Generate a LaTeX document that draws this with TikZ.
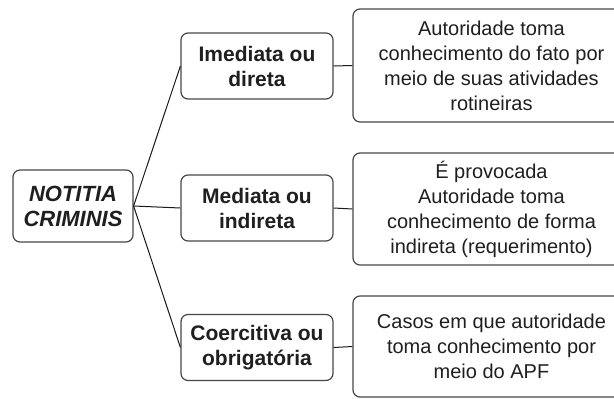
\documentclass[tikz,border=0pt]{standalone}
\usepackage{fontspec}
\setmainfont{Liberation Sans}
\begin{document}
\begin{tikzpicture}[x=1pt,y=-1pt,
  box/.style={draw=black!72,line width=1.2pt,rounded corners=7pt,inner sep=0pt,align=center,text=black!88},
  rootbox/.style={box,minimum width=120pt,minimum height=72pt,font=\fontsize{22}{25}\selectfont\bfseries\itshape},
  midbox/.style={box,minimum width=152pt,minimum height=66pt,font=\fontsize{21}{25}\selectfont\bfseries},
  leafbox/.style={box,minimum width=277pt,font=\fontsize{20}{25}\selectfont},
  conn/.style={draw=black!90,line width=1pt}]
\path[use as bounding box,clip] (0,0) rectangle (614,399);
\fill[white] (0,0) rectangle (614,399);
\node[rootbox] (root) at (73,206) {NOTITIA\\CRIMINIS};
\node[midbox] (m1) at (257,66) {Imediata ou\\direta};
\node[midbox] (m2) at (257,208) {Mediata ou\\indireta};
\node[midbox] (m3) at (257,347.5) {Coercitiva ou\\obrigatória};
\node[leafbox,minimum height=113pt] (r1) at (491.5,65.5) {Autoridade toma\\conhecimento do fato por\\meio de suas atividades\\rotineiras};
\node[leafbox,minimum height=112pt] (r2) at (491.5,209) {É provocada\\Autoridade toma\\conhecimento de forma\\indireta (requerimento)};
\node[leafbox,minimum height=101pt] (r3) at (491.5,346.5) {Casos em que autoridade\\toma conhecimento por\\meio do APF};
\foreach \m in {m1,m2,m3} \draw[conn] (root.east) -- (\m.west);
\draw[conn] (m1.east) -- (r1.west);
\draw[conn] (m2.east) -- (r2.west);
\draw[conn] (m3.east) -- (r3.west);
\end{tikzpicture}
\end{document}
